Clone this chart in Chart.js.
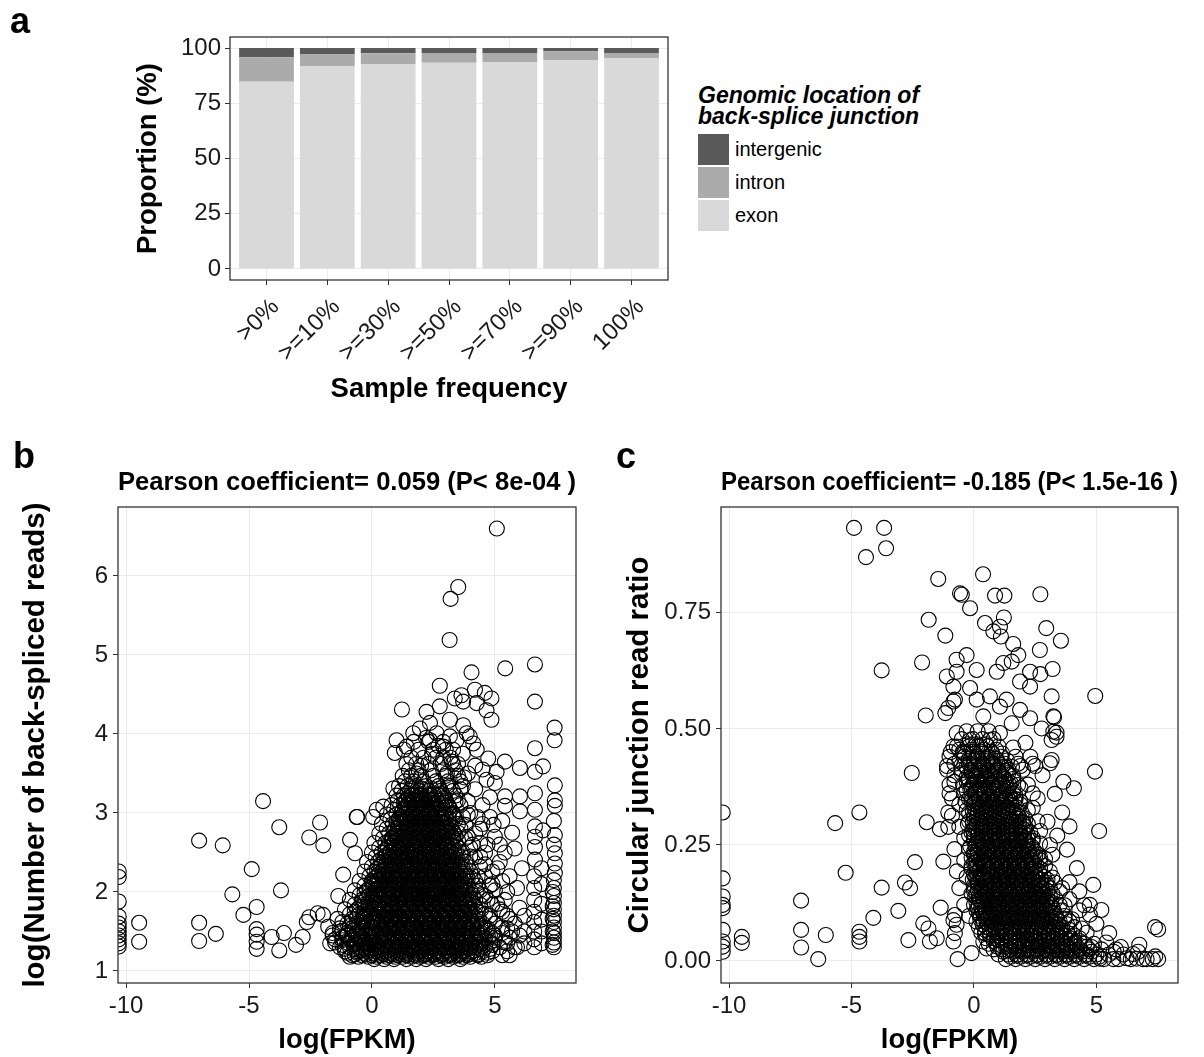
<!DOCTYPE html>
<html><head><meta charset="utf-8">
<script src="https://cdn.jsdelivr.net/npm/chart.js@4.4.1/dist/chart.umd.min.js"></script>
<style>
html,body{margin:0;padding:0;background:#fff;overflow:hidden;}
#page{position:relative;width:1204px;height:1057px;overflow:hidden;background:#fff;font-family:"Liberation Sans",Arial,sans-serif;color:#000;}
canvas{position:absolute;}
.plbl{position:absolute;font-weight:bold;font-size:36px;line-height:36px;}
.lgt{position:absolute;left:698px;top:85px;font-style:italic;font-weight:bold;font-size:23px;line-height:21px;white-space:nowrap;}
.key{position:absolute;left:698px;width:31px;height:31px;}
.klab{position:absolute;left:735px;font-size:20px;line-height:20px;white-space:nowrap;}
</style></head>
<body><div id="page">
<canvas id="ca" width="690" height="410" style="left:0;top:0"></canvas>
<canvas id="cb" width="595" height="597" style="left:0;top:460px"></canvas>
<canvas id="cc" width="604" height="597" style="left:600px;top:460px"></canvas>
<div class="plbl" style="left:10px;top:3px">a</div>
<div class="plbl" style="left:13px;top:438px">b</div>
<div class="plbl" style="left:616px;top:438px">c</div>
<div class="lgt">Genomic location of<br>back-splice junction</div>
<div class="key" style="top:134px;background:#595959"></div>
<div class="key" style="top:167px;background:#ababab"></div>
<div class="key" style="top:200px;background:#d9d9d9"></div>
<div class="klab" style="top:139px">intergenic</div>
<div class="klab" style="top:172px">intron</div>
<div class="klab" style="top:205px">exon</div>
</div>
<script>
// ---------- Panel a data ----------
const categories = ['>0%','>=10%','>=30%','>=50%','>=70%','>=90%','100%'];
const exonPct = [84.7, 91.9, 92.8, 93.3, 93.7, 94.6, 95.5];
const intronPct = [11.1, 5.4, 4.8, 4.5, 4.1, 3.9, 2.3];
const intergenicPct = [4.2, 2.7, 2.4, 2.2, 2.2, 1.5, 2.2];
const aYTicks = [0, 25, 50, 75, 100];

// ---------- Panel b data: log(FPKM) vs log(number of back-spliced reads) ----------
const bXTicks = [-10, -5, 0, 5];
const bYTicks = [1, 2, 3, 4, 5, 6];
const bSparse = [
 -10.3,2.26, -10.3,2.19, -10.3,1.88, -10.3,1.69, -10.3,1.6, -10.3,1.55, -10.3,1.5, -10.3,1.45, -10.3,1.4, -10.3,1.35, -10.3,1.31,
 -9.47,1.61, -9.47,1.37, -7.03,2.65, -7.03,1.61, -7.03,1.38, -6.35,1.47, -6.07,2.59,
 -5.68,1.97, -5.23,1.71, -4.89,2.29, -4.69,1.81, -4.69,1.53, -4.69,1.46, -4.69,1.37, -4.69,1.28,
 -4.43,3.15, -4.08,1.43, -3.77,2.82, -3.7,2.02, -3.58,1.48, -3.77,1.26, -3.09,1.33, -2.82,1.43, -2.65,1.62, -2.55,1.68,
 -2.55,2.69, -2.11,2.88, -1.98,2.59, -2.21,1.73, -1.99,1.71, -1.78,1.56, -1.6,1.45, -1.17,2.22, -1.37,1.95, -0.6,2.95,
 -1.5,1.4, -1.3,1.5, -1.2,1.62, -1.05,1.45, -1.7,1.35
];
const bUpper = [
 5.08,6.6, 3.51,5.86, 3.2,5.71, 3.16,5.19, 4.05,4.78, 5.42,4.83, 6.63,4.88, 6.63,4.41, 7.43,4.08, 7.43,3.92, 6.63,3.82,
 1.22,4.31, 2.76,4.61, 3.37,4.45, 3.64,4.49, 4.19,4.56, 4.59,4.52, 4.86,4.45, 4.66,4.3, 4.86,4.18, 4.26,4.39, 3.71,4.41,
 2.76,4.35, 2.22,4.28, 3.17,4.18, 3.71,4.11, 3.98,3.97, 4.26,3.8, 4.73,3.69, 5.41,3.65, 6.02,3.57, 6.63,3.52, 6.96,3.59,
 7.44,3.35, 7.44,3.16, 7.44,3.09, 6.63,3.25, 6.63,3.04, 6.02,3.21, 6.02,3.02, 5.41,3.21, 5.41,3.09, 5.0,3.38, 5.07,3.52, 4.66,3.42,
 6.63,2.83, 6.63,2.7, 6.96,2.78, 7.44,2.72, 6.63,2.57, 6.63,2.41, 7.44,2.49, 7.44,2.36, 7.44,2.24,
 -0.62,2.95, -0.89,2.66, -0.69,2.49, 0.19,3.04, 0.46,3.08, 0.05,2.95, 0.87,3.31, 1.0,3.92, 0.93,3.76, 1.41,3.84, 1.68,4.01,
 1.95,4.07, 2.36,4.14, 2.63,4.01, 2.36,3.92, 2.9,3.84, 3.17,3.97, 3.44,3.92, 3.85,4.01, 4.12,3.88
];
const bRight = [
 7.4,1.3, 7.4,1.36, 7.4,1.42, 7.4,1.48, 7.4,1.55, 7.4,1.62, 7.4,1.7, 7.4,1.78, 7.4,1.86, 7.4,1.95, 7.4,2.05, 7.4,2.15, 7.4,2.6, 7.4,2.9,
 7.35,1.33, 7.35,1.5, 7.35,1.66, 7.35,1.82, 7.35,2.0, 6.6,1.3, 6.6,1.4, 6.6,1.5, 6.6,1.62, 6.6,1.75, 6.6,1.9, 6.6,2.05, 6.6,2.2,
 6.9,1.35, 6.9,1.5, 6.9,1.65, 6.9,1.85, 6.9,2.1, 6.9,2.3, 6.2,1.35, 6.2,1.5, 6.2,1.7, 5.9,1.3, 6.0,1.45, 5.8,1.6, 6.0,1.8,
 5.9,2.05, 6.1,2.3, 5.8,2.55, 5.7,2.75, 5.3,1.75, 5.5,2.0, 5.1,2.3, 5.4,2.5, 5.0,2.7, 5.3,2.9, 4.8,2.95
];
// rings on the right flank and the upper tip of the dense mass
const bFringe = [
 3.9,3.5, 4.2,3.3, 4.5,3.1, 4.0,3.0, 4.4,2.8, 4.7,2.6, 4.1,2.6, 3.8,2.85, 4.6,2.35, 4.3,2.2, 4.9,2.1, 4.6,1.95, 5.1,1.85,
 4.8,1.7, 5.3,1.55, 5.0,1.45, 5.5,1.35, 4.4,2.45, 3.9,2.7, 4.2,3.6, 3.7,3.75, 3.3,3.8, 2.9,3.7, 3.5,3.62, 3.05,3.5, 3.6,3.3,
 3.9,3.15, 4.3,2.95, 4.8,3.2, 4.5,3.55, 5.2,2.6, 5.6,2.2, 5.5,1.7, 5.7,1.5, 4.95,2.85, 3.75,3.45, 3.25,3.65, 2.7,3.85,
 2.45,3.75, 2.0,3.6, 2.2,3.95, 1.8,3.5, 3.1,3.35, 3.4,3.15, 3.7,2.95, 4.0,2.45, 3.85,2.2, 4.3,1.75, 4.6,1.55, 4.25,2.0,
 4.05,1.6, 3.7,2.5, 3.5,2.75, 3.3,3.0
];
const bRowY = [1.15,1.2,1.25,1.3,1.36,1.42,1.48,1.54,1.6,1.66,1.72,1.78,1.84,1.9,1.96,2.02,2.08,2.14,2.2,2.26,2.32,2.38,2.44,2.5,2.56,2.62,2.68,2.74,2.8,2.86,2.92,2.98,3.04,3.1,3.16,3.22,3.28,3.34,3.4,3.47,3.54,3.62,3.7,3.8,3.9];
const bRowX = [
 [0.1,0.5,0.9,1.4,1.8,2.2,2.7,3.1,3.6],
 [-0.8,-0.4,0,0.35,0.7,1.05,1.4,1.75,2.1,2.45,2.8,3.15,3.5,3.85,4.3,4.7,5.3,5.6],
 [-1.1,-0.6,-0.2,0.2,0.55,0.9,1.25,1.6,1.95,2.3,2.65,3,3.35,3.7,4.05,4.5,4.9,5.5],
 [-1.3,-0.9,-0.5,-0.1,0.3,0.65,1,1.35,1.7,2.05,2.4,2.75,3.1,3.45,3.8,4.2,4.6,5.2,5.8],
 [-1.5,-1,-0.7,-0.3,0.1,0.45,0.8,1.15,1.5,1.85,2.2,2.55,2.9,3.25,3.6,3.95,4.35,4.8,5.4],
 [-1.2,-0.8,-0.4,0,0.35,0.7,1.05,1.4,1.75,2.1,2.45,2.8,3.15,3.5,3.85,4.2,4.6,5,5.6],
 [-1.6,-1,-0.6,-0.2,0.2,0.55,0.9,1.25,1.6,1.95,2.3,2.65,3,3.35,3.7,4.05,4.45,4.9,5.3],
 [-1.3,-0.8,-0.4,0,0.4,0.75,1.1,1.45,1.8,2.15,2.5,2.85,3.2,3.55,3.9,4.3,4.7,5.5],
 [-1,-0.6,-0.2,0.2,0.6,0.95,1.3,1.65,2,2.35,2.7,3.05,3.4,3.75,4.1,4.5,5],
 [-1.4,-0.8,-0.4,0.05,0.45,0.8,1.15,1.5,1.85,2.2,2.55,2.9,3.25,3.6,3.95,4.35,4.8,5.6],
 [-0.9,-0.5,-0.1,0.3,0.65,1,1.35,1.7,2.05,2.4,2.75,3.1,3.45,3.8,4.2,4.6],
 [-1.1,-0.6,-0.2,0.2,0.55,0.9,1.25,1.6,1.95,2.3,2.65,3,3.35,3.7,4.05,4.45,5.2],
 [-0.7,-0.3,0.1,0.45,0.8,1.15,1.5,1.85,2.2,2.55,2.9,3.25,3.6,3.95,4.4,4.9],
 [-0.9,-0.4,0,0.35,0.7,1.05,1.4,1.75,2.1,2.45,2.8,3.15,3.5,3.85,4.2,4.7,5.4],
 [-0.5,-0.1,0.25,0.6,0.95,1.3,1.65,2,2.35,2.7,3.05,3.4,3.75,4.1,4.5],
 [-0.7,-0.2,0.15,0.5,0.85,1.2,1.55,1.9,2.25,2.6,2.95,3.3,3.65,4,4.4,5],
 [-0.3,0.05,0.4,0.75,1.1,1.45,1.8,2.15,2.5,2.85,3.2,3.55,3.9,4.3,4.8],
 [-0.5,0,0.3,0.65,1,1.35,1.7,2.05,2.4,2.75,3.1,3.45,3.8,4.2,5.3],
 [-0.1,0.2,0.55,0.9,1.25,1.6,1.95,2.3,2.65,3,3.35,3.7,4.1,4.6],
 [-0.3,0.1,0.45,0.8,1.15,1.5,1.85,2.2,2.55,2.9,3.25,3.6,4,4.9],
 [0,0.35,0.7,1.05,1.4,1.75,2.1,2.45,2.8,3.15,3.5,3.9,4.4],
 [-0.2,0.25,0.6,0.95,1.3,1.65,2,2.35,2.7,3.05,3.4,3.8,5.2],
 [0.15,0.5,0.85,1.2,1.55,1.9,2.25,2.6,2.95,3.3,3.7,4.2],
 [0,0.4,0.75,1.1,1.45,1.8,2.15,2.5,2.85,3.2,3.6,4.6],
 [0.3,0.65,1,1.35,1.7,2.05,2.4,2.75,3.1,3.5,4],
 [0.1,0.55,0.9,1.25,1.6,1.95,2.3,2.65,3,3.4,4.4],
 [0.45,0.8,1.15,1.5,1.85,2.2,2.55,2.9,3.3,3.8],
 [0.3,0.7,1.05,1.4,1.75,2.1,2.45,2.8,3.2,4.2],
 [0.6,0.95,1.3,1.65,2,2.35,2.7,3.1,3.6],
 [0.4,0.85,1.2,1.55,1.9,2.25,2.6,3,3.5,4.5],
 [0.75,1.1,1.45,1.8,2.15,2.5,2.9,3.4],
 [0.6,1,1.35,1.7,2.05,2.4,2.8,3.3,3.9],
 [0.9,1.25,1.6,1.95,2.3,2.7,3.2],
 [0.8,1.15,1.5,1.85,2.2,2.6,3.1,3.6],
 [1.05,1.4,1.75,2.1,2.5,3,3.5],
 [1,1.3,1.65,2,2.4,2.9,3.4],
 [1.2,1.55,1.9,2.3,2.8,3.3],
 [1.1,1.45,1.8,2.2,2.7,3.2,3.7],
 [1.35,1.7,2.1,2.6,3.1,3.6],
 [1.25,1.6,2,2.5,3,3.5],
 [1.5,1.9,2.4,2.9,3.4],
 [1.4,1.8,2.3,2.8,3.3],
 [1.6,2.1,2.6,3.2],
 [1.3,1.9,2.5,3],
 [1.7,2.3,2.9]
];
// dense part of panel b
const bCoreY = [1.18,1.23,1.28,1.33,1.39,1.45,1.51,1.57,1.63,1.69,1.75,1.81,1.87,1.93,1.99,2.05,2.11,2.17,2.23,2.29,2.35,2.41,2.47,2.53,2.59,2.65,2.71,2.77,2.83,2.89,2.95,3.01,3.07,3.13,3.19,3.25,3.31];
const bCoreX = [
 [-0.9,-0.55,-0.15,0.2,0.6,0.95,1.25,1.6,1.95,2.3,2.6,2.95,3.3,3.7,4.0,4.45],
 [-1.0,-0.6,-0.35,0.05,0.4,0.75,1.1,1.45,1.8,2.15,2.5,2.85,3.2,3.55,3.9,4.25,4.7],
 [-1.1,-0.7,-0.3,0.1,0.45,0.8,1.15,1.55,1.9,2.2,2.55,2.9,3.25,3.6,3.95,4.4,4.8],
 [-1.2,-0.75,-0.3,0.1,0.5,0.85,1.2,1.5,1.9,2.25,2.6,2.95,3.3,3.65,4.0,4.4,4.9],
 [-1.2,-0.85,-0.5,-0.1,0.3,0.6,0.95,1.35,1.7,2.0,2.4,2.75,3.05,3.4,3.8,4.15,4.55,5.0],
 [-1.0,-0.6,-0.2,0.15,0.5,0.9,1.2,1.6,1.9,2.3,2.6,2.95,3.3,3.7,4.0,4.4,4.8],
 [-1.2,-0.8,-0.4,0.0,0.4,0.7,1.1,1.4,1.8,2.1,2.5,2.8,3.2,3.5,3.9,4.25,4.7],
 [-0.9,-0.55,-0.2,0.2,0.55,0.9,1.3,1.6,2.0,2.3,2.7,3.0,3.4,3.7,4.1,4.5],
 [-0.8,-0.4,0.0,0.4,0.75,1.1,1.45,1.8,2.2,2.5,2.9,3.2,3.6,3.9,4.3],
 [-0.6,-0.25,0.15,0.55,0.9,1.3,1.65,2.0,2.35,2.7,3.05,3.4,3.75,4.1],
 [-0.7,-0.3,0.1,0.45,0.8,1.2,1.5,1.9,2.25,2.6,2.95,3.3,3.6,4.0,4.3],
 [-0.5,-0.05,0.35,0.7,1.05,1.4,1.75,2.1,2.45,2.8,3.15,3.5,3.85,4.2],
 [-0.4,0.0,0.3,0.65,1.0,1.35,1.7,2.05,2.4,2.75,3.1,3.45,3.8,4.1],
 [-0.2,0.15,0.5,0.85,1.25,1.6,1.95,2.3,2.6,3.0,3.3,3.7,4.0],
 [-0.3,0.1,0.45,0.8,1.1,1.5,1.8,2.2,2.5,2.85,3.2,3.55,3.9],
 [-0.1,0.3,0.65,1.0,1.35,1.7,2.05,2.4,2.75,3.1,3.45,3.8],
 [0.0,0.2,0.55,0.9,1.25,1.6,1.95,2.3,2.65,3.0,3.35,3.7],
 [0.1,0.45,0.8,1.15,1.5,1.85,2.2,2.55,2.9,3.25,3.6,3.9],
 [0.3,0.65,1.0,1.35,1.7,2.05,2.4,2.75,3.1,3.45,3.8],
 [0.2,0.55,0.9,1.25,1.6,1.95,2.3,2.65,3.0,3.35,3.7],
 [0.4,0.8,1.15,1.5,1.85,2.2,2.55,2.9,3.25,3.6],
 [0.35,0.7,1.05,1.4,1.75,2.1,2.45,2.8,3.15,3.5],
 [0.6,0.95,1.3,1.65,2.0,2.35,2.7,3.05,3.4],
 [0.55,0.9,1.25,1.6,1.95,2.3,2.65,3.0,3.35],
 [0.8,1.15,1.5,1.85,2.2,2.55,2.9,3.25],
 [0.7,1.05,1.4,1.75,2.1,2.45,2.8,3.15,3.5],
 [0.95,1.3,1.65,2.0,2.35,2.7,3.05,3.4],
 [0.9,1.2,1.55,1.9,2.25,2.6,2.95,3.3],
 [1.1,1.45,1.8,2.15,2.5,2.85,3.2],
 [1.0,1.35,1.7,2.05,2.4,2.75,3.1],
 [1.25,1.6,1.95,2.3,2.65,3.0,3.35],
 [1.2,1.5,1.85,2.2,2.55,2.9],
 [1.4,1.75,2.1,2.45,2.8,3.15],
 [1.3,1.65,2.0,2.35,2.7,3.0],
 [1.5,1.9,2.25,2.6,2.95],
 [1.45,1.8,2.15,2.5,2.85],
 [1.6,2.0,2.4,2.75]
];
// solid black centre of panel b
const bDeepY = [1.21,1.26,1.31,1.37,1.43,1.49,1.55,1.61,1.67,1.73,1.79,1.85,1.91,1.97,2.03,2.09,2.15,2.21,2.27,2.33,2.39,2.45,2.51,2.57,2.63,2.69,2.75,2.81,2.87,2.93,2.99,3.05,3.11,3.17,3.23];
const bDeepX = [
 [-0.7,-0.25,0.15,0.5,0.85,1.2,1.55,1.9,2.2,2.55,2.9,3.25,3.6,3.95,4.3],
 [-0.45,-0.05,0.3,0.65,1.0,1.35,1.7,2.05,2.4,2.75,3.1,3.45,3.8,4.15],
 [-0.6,-0.2,0.2,0.55,0.9,1.25,1.6,1.95,2.3,2.65,3.0,3.35,3.7,4.05,4.5],
 [-0.4,0.0,0.35,0.7,1.05,1.4,1.75,2.1,2.45,2.8,3.15,3.5,3.85,4.2],
 [-0.55,-0.15,0.25,0.6,0.95,1.3,1.65,2.0,2.35,2.7,3.05,3.4,3.75,4.1],
 [-0.4,0.05,0.4,0.75,1.1,1.45,1.8,2.15,2.5,2.85,3.2,3.55,3.9,4.3],
 [-0.5,-0.05,0.3,0.65,1.0,1.35,1.7,2.05,2.4,2.75,3.1,3.45,3.8,4.15],
 [-0.35,0.05,0.4,0.8,1.15,1.5,1.85,2.15,2.5,2.85,3.2,3.55,3.9],
 [-0.3,0.1,0.5,0.85,1.2,1.55,1.9,2.25,2.6,2.95,3.3,3.65,4.0],
 [-0.2,0.2,0.6,0.95,1.3,1.65,2.0,2.35,2.7,3.05,3.4,3.75],
 [-0.3,0.05,0.45,0.8,1.15,1.5,1.85,2.2,2.55,2.9,3.25,3.6,3.95],
 [-0.15,0.25,0.6,0.95,1.3,1.65,2.0,2.35,2.7,3.05,3.4,3.75],
 [0.05,0.4,0.75,1.1,1.45,1.8,2.15,2.5,2.85,3.2,3.55,3.85],
 [0.0,0.35,0.7,1.05,1.4,1.75,2.1,2.45,2.8,3.15,3.5],
 [0.2,0.5,0.85,1.2,1.55,1.9,2.25,2.6,2.95,3.3,3.65],
 [0.15,0.5,0.85,1.2,1.55,1.9,2.25,2.6,2.95,3.3,3.6],
 [0.25,0.6,0.95,1.3,1.65,2.0,2.35,2.7,3.05,3.4],
 [0.4,0.75,1.1,1.45,1.8,2.15,2.5,2.85,3.2,3.5],
 [0.45,0.8,1.15,1.5,1.85,2.2,2.55,2.9,3.25],
 [0.55,0.9,1.25,1.6,1.95,2.3,2.65,3.0,3.35],
 [0.5,0.85,1.2,1.55,1.9,2.25,2.6,2.95,3.3],
 [0.7,1.05,1.4,1.75,2.1,2.45,2.8,3.15],
 [0.75,1.1,1.45,1.8,2.15,2.5,2.85,3.2],
 [0.65,1.0,1.35,1.7,2.05,2.4,2.75,3.1],
 [0.9,1.25,1.6,1.95,2.3,2.65,3.0],
 [0.85,1.2,1.55,1.9,2.25,2.6,2.95,3.25],
 [1.0,1.35,1.7,2.05,2.4,2.75,3.1],
 [1.05,1.4,1.75,2.1,2.45,2.8,3.05],
 [1.15,1.5,1.85,2.2,2.55,2.9],
 [1.1,1.45,1.8,2.15,2.5,2.85,3.15],
 [1.3,1.65,2.0,2.35,2.7,3.0],
 [1.35,1.7,2.05,2.4,2.75],
 [1.45,1.8,2.15,2.5,2.85],
 [1.4,1.75,2.1,2.45],
 [1.65,2.0,2.35,2.7]
];

// ---------- Panel c data: log(FPKM) vs circular junction read ratio ----------
const cXTicks = [-10, -5, 0, 5];
const cYTicks = [0, 0.25, 0.5, 0.75];
const cSparse = [
 -4.9,0.933, -3.67,0.933, -3.59,0.889, -4.41,0.87, -1.46,0.823, 0.37,0.833, -0.57,0.792, -0.5,0.789, 0.86,0.787, 1.24,0.787,
 2.71,0.79, -0.16,0.76, -1.85,0.735, -1.17,0.701, 0.45,0.728, 0.79,0.71, 1.06,0.72, 1.22,0.74, 1.1,0.699, 1.6,0.683, 1.81,0.659,
 2.95,0.717, 3.55,0.69, 2.69,0.67, 2.71,0.618, 3.21,0.629, -3.77,0.626, -2.12,0.643, 4.95,0.571, -1.97,0.529, -1.17,0.534,
 -1.05,0.545, -0.84,0.559, -0.78,0.563, -1.11,0.613, -0.71,0.623, -0.3,0.659, -0.71,0.649, 0.11,0.627, -0.84,0.591, -0.16,0.588,
 0.11,0.563, 0.38,0.527, 0.65,0.57, 1.06,0.548, 1.33,0.563, 0.93,0.623, 1.2,0.642, 1.54,0.645, 1.88,0.602, 2.29,0.591, 2.29,0.623,
 3.17,0.57, 3.27,0.525, 3.37,0.492, 3.17,0.476, 2.76,0.501, 2.29,0.523, 1.88,0.541, 1.54,0.512, 1.06,0.491, 0.65,0.476, 0.24,0.462,
 -0.16,0.476, -0.71,0.491, -0.84,0.462, -0.44,0.448, 4.94,0.408, -2.54,0.405, 3.1,0.426, 3.17,0.433, 3.24,0.494, 3.37,0.483, 3.24,0.527,
 3.65,0.386, 4.08,0.372, -10.26,0.32, -4.68,0.32, -5.67,0.297, -1.93,0.299, -1.39,0.284, -1.05,0.289, 5.11,0.28, -2.41,0.213,
 -1.25,0.214, -5.24,0.19, -3.77,0.158, -2.82,0.169, -2.61,0.157, -10.26,0.178, -10.26,0.139, -10.26,0.121, -10.26,0.114,
 -7.06,0.13, -3.09,0.108, -4.11,0.093, -1.36,0.115, -0.78,0.099, -0.84,0.088, -2.07,0.081, -1.86,0.07, -1.8,0.042, -1.52,0.049,
 -0.84,0.042, -0.78,0.06, -0.71,0.078, -7.06,0.067, -7.06,0.029, -6.05,0.056, -9.48,0.052, -9.48,0.039, -10.26,0.067,
 -10.26,0.042, -10.26,0.031, -10.26,0.02, -4.68,0.063, -4.68,0.052, -4.68,0.042, -2.68,0.045, -6.36,0.004, -0.67,0.004,
 -0.1,0.017, 0.38,0.042, 0.52,0.027, 0.45,0.06, 4.87,0.164, 4.73,0.121, 4.73,0.1, 5.52,0.06, 7.39,0.073, 7.52,0.068,
 5.14,0.005, 5.69,0.004, 6.23,0.006, 6.64,0.005, 7.05,0.004, 7.52,0.004, 6.7,0.02, 6.75,0.035, 7.4,0.01,
 -1.1,0.42, -1.0,0.38, -0.9,0.35, -1.05,0.32, -0.95,0.45, -0.8,0.40,
 2.6,0.35, 3.0,0.3, 3.4,0.27, 3.8,0.24, 2.8,0.4, 3.3,0.36, 4.2,0.2, 3.6,0.32, 2.5,0.42, 3.9,0.29,
 4.5,0.12, 5.0,0.08, 5.4,0.04, 4.3,0.15, 4.8,0.03, 5.7,0.02, 6.0,0.03, 6.5,0.015, 5.2,0.11,
 2.9,0.22, 3.2,0.18, 3.5,0.15, 3.7,0.12, 4.0,0.09, 2.7,0.28, 3.1,0.25, 2.4,0.33, 2.2,0.38, 1.9,0.42, 2.1,0.47, 1.6,0.46,
 4.4,0.07, 4.1,0.04, 3.9,0.17
];
const cRowY = [0.004,0.014,0.025,0.037,0.049,0.061,0.073,0.085,0.097,0.109,0.121,0.133,0.145,0.157,0.169,0.181,0.193,0.205,0.217,0.229,0.241,0.253,0.265,0.277,0.289,0.301,0.313,0.325,0.337,0.349,0.361,0.373,0.386,0.399,0.412,0.425,0.44,0.455];
const cRowX = [
 [1.3,1.7,2.1,2.5,2.9,3.3,3.7,4.1,4.5,4.9,5.3,5.9,6.4,6.9,7.3],
 [1.0,1.4,1.8,2.2,2.6,3.0,3.4,3.8,4.2,4.6,5.0,5.5,6.1],
 [0.8,1.15,1.5,1.85,2.2,2.55,2.9,3.25,3.6,3.95,4.3,4.7,5.2,5.8],
 [0.6,0.95,1.3,1.65,2.0,2.35,2.7,3.05,3.4,3.75,4.1,4.5,4.9],
 [0.5,0.8,1.1,1.45,1.8,2.15,2.5,2.85,3.2,3.55,3.9,4.3],
 [0.3,0.65,1.0,1.3,1.65,2.0,2.35,2.7,3.05,3.4,3.8,4.6],
 [0.2,0.5,0.85,1.15,1.5,1.85,2.2,2.55,2.9,3.25,3.6,4.1],
 [0.1,0.4,0.7,1.05,1.4,1.75,2.1,2.45,2.8,3.15,3.5,3.9],
 [-0.2,0.25,0.6,0.9,1.25,1.6,1.95,2.3,2.65,3.0,3.35,3.7],
 [0.1,0.45,0.8,1.15,1.5,1.85,2.2,2.55,2.9,3.25,3.6,4.3],
 [-0.4,0.0,0.35,0.7,1.0,1.35,1.7,2.05,2.4,2.75,3.1,3.5],
 [0.2,0.55,0.9,1.25,1.6,1.95,2.3,2.65,3.0,3.35,3.9],
 [-0.1,0.1,0.45,0.8,1.1,1.45,1.8,2.15,2.5,2.85,3.2],
 [-0.6,0.0,0.3,0.65,1.0,1.35,1.7,2.05,2.4,2.75,3.1,3.6],
 [0.15,0.5,0.85,1.2,1.55,1.9,2.25,2.6,2.95,3.3],
 [-0.3,0.05,0.4,0.75,1.1,1.45,1.8,2.15,2.5,2.85],
 [-0.7,0.2,0.55,0.9,1.25,1.6,1.95,2.3,2.65,3.1],
 [-0.1,0.1,0.45,0.8,1.15,1.5,1.85,2.2,2.55,2.9],
 [-0.4,0.25,0.6,0.95,1.3,1.65,2.0,2.35,2.7],
 [0.0,0.15,0.5,0.85,1.2,1.55,1.9,2.25,2.6,3.2],
 [-0.8,-0.2,0.3,0.65,1.0,1.35,1.7,2.05,2.4],
 [0.1,0.45,0.8,1.15,1.5,1.85,2.2,2.7],
 [-0.4,0.0,0.3,0.65,1.0,1.35,1.7,2.05,2.4],
 [-0.1,0.2,0.5,0.85,1.2,1.55,1.9,2.3],
 [-0.6,0.05,0.35,0.7,1.05,1.4,1.75,2.1],
 [-0.2,0.2,0.55,0.9,1.25,1.6,1.95,2.6],
 [-0.9,0.0,0.35,0.7,1.05,1.4,1.8],
 [-0.3,0.15,0.5,0.85,1.2,1.6,2.2],
 [-0.6,0.0,0.35,0.7,1.05,1.45,1.9],
 [-0.2,0.2,0.55,0.9,1.3,1.7],
 [-1.0,-0.4,0.05,0.4,0.75,1.15,1.6,2.4],
 [-0.1,0.25,0.6,1.0,1.4,1.9],
 [-0.8,-0.3,0.1,0.45,0.85,1.3],
 [0.0,0.3,0.7,1.1,1.6],
 [-1.1,-0.5,-0.1,0.2,0.55,1.0,1.4,2.0],
 [-0.8,-0.2,0.35,0.8,1.25,1.8,2.4],
 [-1.0,-0.4,0.1,0.6,1.1,1.7,2.3],
 [-0.6,-0.1,0.4,0.9]
];
// dense band of panel c
const cCoreY = [0.009,0.02,0.031,0.043,0.055,0.067,0.079,0.091,0.103,0.115,0.127,0.139,0.151,0.163,0.175,0.187,0.199,0.211,0.223,0.235,0.247,0.259,0.271,0.283,0.295,0.307,0.319,0.331,0.343,0.355,0.367,0.379,0.392,0.405,0.418,0.432,0.447,0.462,0.478,0.495];
const cCoreX = [
 [1.5,1.9,2.3,2.7,3.1,3.5,3.9,4.3,4.7,5.1],
 [1.2,1.6,2.0,2.4,2.8,3.2,3.6,4.0,4.4,4.8],
 [0.95,1.3,1.7,2.05,2.4,2.75,3.1,3.45,3.8,4.2,4.6],
 [0.8,1.15,1.5,1.85,2.2,2.5,2.9,3.2,3.6,3.95,4.3],
 [0.65,1.0,1.3,1.65,2.0,2.3,2.7,3.0,3.4,3.7,4.1],
 [0.45,0.8,1.15,1.5,1.8,2.2,2.5,2.9,3.2,3.55,3.9],
 [0.35,0.7,1.0,1.35,1.7,2.05,2.4,2.75,3.1,3.45,3.8],
 [0.25,0.55,0.9,1.25,1.6,1.95,2.3,2.65,3.0,3.35,3.7],
 [0.2,0.5,0.85,1.2,1.55,1.9,2.25,2.6,2.95,3.3],
 [0.15,0.45,0.8,1.1,1.45,1.8,2.15,2.5,2.85,3.2],
 [0.1,0.4,0.75,1.05,1.4,1.75,2.1,2.45,2.8,3.15],
 [0.05,0.35,0.7,1.0,1.35,1.7,2.05,2.4,2.75,3.1],
 [0.0,0.3,0.6,0.95,1.3,1.65,2.0,2.35,2.7,3.0],
 [0.0,0.3,0.6,0.9,1.25,1.6,1.95,2.3,2.65,2.95],
 [-0.05,0.35,0.65,1.0,1.35,1.7,2.05,2.4,2.75,3.0],
 [0.0,0.3,0.6,0.95,1.3,1.65,2.0,2.35,2.7],
 [-0.1,0.25,0.6,0.95,1.3,1.65,2.0,2.35,2.7],
 [0.0,0.35,0.7,1.05,1.4,1.75,2.1,2.45],
 [-0.1,0.3,0.65,1.0,1.35,1.7,2.05,2.4,2.7],
 [0.0,0.4,0.75,1.1,1.45,1.8,2.15,2.5],
 [-0.15,0.25,0.6,0.95,1.3,1.65,2.0,2.35],
 [0.0,0.35,0.7,1.05,1.4,1.75,2.1,2.4],
 [-0.2,0.15,0.5,0.85,1.2,1.55,1.9,2.2],
 [-0.05,0.3,0.65,1.0,1.35,1.7,2.05],
 [-0.25,0.1,0.45,0.8,1.15,1.5,1.85,2.2],
 [0.0,0.35,0.7,1.05,1.4,1.75,2.1],
 [-0.2,0.15,0.5,0.85,1.2,1.6,1.95],
 [0.0,0.35,0.7,1.05,1.4,1.75],
 [-0.35,0.05,0.4,0.75,1.1,1.5,1.9],
 [-0.1,0.3,0.65,1.0,1.35,1.7],
 [-0.3,0.1,0.45,0.8,1.2,1.6],
 [-0.45,-0.05,0.35,0.7,1.05,1.45,1.8],
 [-0.2,0.15,0.5,0.9,1.25,1.6],
 [-0.5,-0.1,0.3,0.65,1.0,1.4],
 [-0.3,0.05,0.4,0.8,1.15,1.55],
 [-0.6,-0.15,0.2,0.55,0.95,1.35],
 [-0.4,0.0,0.35,0.75,1.15],
 [-0.7,-0.2,0.15,0.55,1.0],
 [-0.5,-0.05,0.35,0.8],
 [-0.3,0.15,0.6]
];
// solid black centre of panel c
const cDeepY = [0.012,0.023,0.034,0.046,0.058,0.07,0.082,0.094,0.106,0.118,0.13,0.142,0.154,0.166,0.178,0.19,0.202,0.214,0.226,0.238,0.25,0.262,0.274,0.286,0.298,0.31,0.322,0.334,0.346,0.358,0.37,0.383,0.396,0.409,0.422,0.436,0.451,0.467];
const cDeepX = [
 [1.75,2.15,2.55,2.95,3.35,3.75,4.15,4.55],
 [1.4,1.8,2.2,2.6,3.0,3.4,3.8,4.2],
 [1.1,1.5,1.85,2.25,2.6,2.95,3.3,3.65,4.0],
 [0.95,1.3,1.7,2.05,2.35,2.7,3.05,3.4,3.8],
 [0.8,1.15,1.5,1.85,2.15,2.5,2.85,3.2,3.55],
 [0.65,1.0,1.3,1.65,2.0,2.35,2.7,3.05,3.4],
 [0.55,0.85,1.2,1.55,1.9,2.25,2.6,2.95,3.3],
 [0.45,0.75,1.1,1.45,1.8,2.1,2.45,2.8,3.15],
 [0.35,0.65,1.0,1.35,1.7,2.05,2.4,2.75,3.1],
 [0.3,0.6,0.95,1.3,1.6,1.95,2.3,2.65,3.0],
 [0.25,0.55,0.9,1.2,1.55,1.9,2.25,2.6,2.95],
 [0.2,0.5,0.85,1.15,1.5,1.85,2.2,2.55,2.85],
 [0.15,0.45,0.8,1.1,1.45,1.8,2.15,2.5,2.8],
 [0.15,0.45,0.75,1.05,1.4,1.75,2.1,2.45,2.75],
 [0.1,0.4,0.7,1.05,1.4,1.75,2.1,2.4],
 [0.1,0.4,0.75,1.1,1.45,1.8,2.15,2.5],
 [0.05,0.4,0.75,1.1,1.45,1.8,2.15,2.45],
 [0.1,0.45,0.8,1.15,1.5,1.85,2.2],
 [0.05,0.4,0.75,1.1,1.45,1.8,2.15,2.5],
 [0.15,0.5,0.85,1.2,1.55,1.9,2.25],
 [0.05,0.4,0.75,1.1,1.45,1.8,2.15],
 [0.15,0.5,0.85,1.2,1.55,1.9,2.2],
 [0.0,0.35,0.7,1.05,1.4,1.75,2.05],
 [0.1,0.45,0.8,1.15,1.5,1.85],
 [-0.05,0.3,0.65,1.0,1.35,1.7,2.0],
 [0.1,0.45,0.8,1.15,1.5,1.85],
 [-0.05,0.3,0.65,1.0,1.35,1.75],
 [0.15,0.5,0.85,1.2,1.55],
 [-0.1,0.25,0.6,0.95,1.3,1.65],
 [0.05,0.4,0.75,1.1,1.45],
 [-0.15,0.25,0.6,0.95,1.35],
 [0.0,0.4,0.75,1.15,1.5],
 [-0.3,0.1,0.5,0.85,1.2],
 [-0.1,0.25,0.6,1.0,1.3],
 [-0.4,0.0,0.4,0.75,1.1],
 [-0.2,0.15,0.55,0.9],
 [-0.45,-0.05,0.3,0.7],
 [-0.25,0.1,0.5]
];

// ---------- helpers ----------
const FONT = '"Liberation Sans", Arial, sans-serif';
Chart.defaults.font.family = FONT;
function pairs(flat){ const out=[]; for(let i=0;i<flat.length;i+=2) out.push({x:flat[i], y:flat[i+1]}); return out; }
function rows(ys, xs){ const out=[]; ys.forEach((y,i)=>xs[i].forEach(x=>out.push({x:x,y:y}))); return out; }
const panelBorder = { id:'panelBorder', afterDraw(chart){ const {ctx, chartArea:a} = chart; ctx.save(); ctx.strokeStyle='#333'; ctx.lineWidth=1.3; ctx.strokeRect(a.left, a.top, a.right-a.left, a.bottom-a.top); ctx.restore(); } };
const tickFont = {family:FONT, size:24};
const xTitleFont = {family:FONT, size:27.5, weight:'bold'};
const yTitleFontScatter = {family:FONT, size:29.5, weight:'bold'};
const gridCfg = {color:'#ebebeb', lineWidth:1, tickColor:'#333', tickLength:5, drawTicks:true, offset:false};

// ---------- Panel a ----------
new Chart(document.getElementById('ca'), {
  type:'bar',
  data:{ datasets:[
    {label:'exon', data: exonPct.map((v,i)=>({x:i+1,y:v})), backgroundColor:'#d9d9d9'},
    {label:'intron', data: intronPct.map((v,i)=>({x:i+1,y:v})), backgroundColor:'#ababab'},
    {label:'intergenic', data: intergenicPct.map((v,i)=>({x:i+1,y:v})), backgroundColor:'#595959'}
  ]},
  options:{
    responsive:false, animation:false, events:[],
    layout:{padding:{top:37,right:22,left:0,bottom:0}},
    plugins:{legend:{display:false}, tooltip:{enabled:false}},
    datasets:{bar:{barPercentage:0.9, categoryPercentage:1, borderWidth:0}},
    scales:{
      x:{type:'linear', stacked:true, offset:false, min:0.4, max:7.6,
        afterBuildTicks:s=>{ s.ticks = categories.map((c,i)=>({value:i+1})); },
        afterFit:s=>{ s.height = 130; },
        ticks:{callback:v=>categories[Math.round(v)-1], minRotation:45, maxRotation:45, autoSkip:false, font:tickFont, color:'#1a1a1a', padding:8, labelOffset:9},
        grid:gridCfg, border:{display:false},
        title:{display:true, text:'Sample frequency', font:xTitleFont, color:'#000', padding:{top:0,bottom:4.5}}},
      y:{stacked:true, min:-5, max:105,
        afterBuildTicks:s=>{ s.ticks = aYTicks.map(v=>({value:v})); },
        afterFit:s=>{ s.width = 230; },
        ticks:{callback:v=>String(v), font:tickFont, color:'#1a1a1a', padding:4},
        grid:gridCfg, border:{display:false},
        title:{display:true, text:'Proportion (%)', font:xTitleFont, color:'#000', padding:{top:131.5,bottom:0}}}
    }
  },
  plugins:[panelBorder]
});

// ---------- scatter factory ----------
function scatterChart(id, points, title, xTicks, yTicks, xr, yr, yTitle, yw, yTitlePad, rightPad, yFmt){
  return new Chart(document.getElementById(id), {
    type:'scatter',
    data:{datasets:[{data:points, pointStyle:'circle', pointRadius:7.5, pointBorderWidth:1.1, pointBorderColor:'#000', pointBackgroundColor:'rgba(0,0,0,0)', clip:0}]},
    options:{
      responsive:false, animation:false, events:[],
      layout:{padding:{top:0,left:0,right:rightPad,bottom:0}},
      plugins:{legend:{display:false}, tooltip:{enabled:false},
        title:{display:true, fullSize:false, text:title, font:{family:FONT,size:26,weight:'bold'}, color:'#000', padding:{top:7.4,bottom:8.4}}},
      scales:{
        x:{type:'linear', min:xr[0], max:xr[1],
          afterBuildTicks:s=>{ s.ticks = xTicks.map(v=>({value:v})); },
          afterFit:s=>{ s.height = 74; },
          ticks:{callback:v=>String(v), font:tickFont, color:'#1a1a1a', padding:4, maxRotation:0},
          grid:gridCfg, border:{display:false},
          title:{display:true, text:'log(FPKM)', font:xTitleFont, color:'#000', padding:{top:0,bottom:0.5}}},
        y:{type:'linear', min:yr[0], max:yr[1],
          afterBuildTicks:s=>{ s.ticks = yTicks.map(v=>({value:v})); },
          afterFit:s=>{ s.width = yw; },
          ticks:{callback:yFmt, font:tickFont, color:'#1a1a1a', padding:5},
          grid:gridCfg, border:{display:false},
          title:{display:true, text:yTitle, font:yTitleFontScatter, color:'#000', padding:{top:yTitlePad,bottom:0}}}
      }
    },
    plugins:[panelBorder]
  });
}

const bPoints = [].concat(pairs(bSparse), pairs(bUpper), pairs(bRight), pairs(bFringe), rows(bRowY, bRowX), rows(bCoreY, bCoreX), rows(bDeepY, bDeepX));
const cPoints = [].concat(pairs(cSparse), rows(cRowY, cRowX), rows(cCoreY, cCoreX), rows(cDeepY, cDeepX));

scatterChart('cb', bPoints, 'Pearson coefficient= 0.059 (P< 8e-04 )', bXTicks, bYTicks, [-10.33, 8.3], [0.848, 6.873],
  'log(Number of back-spliced reads)', 118, 18, 19, v=>String(v));
scatterChart('cc', cPoints, 'Pearson coefficient= -0.185 (P< 1.5e-16 )', cXTicks, cYTicks, [-10.33, 8.33], [-0.0474, 0.978],
  'Circular junction read ratio', 121, 22, 26, v=>Number(v).toFixed(2));
</script>
</body></html>
